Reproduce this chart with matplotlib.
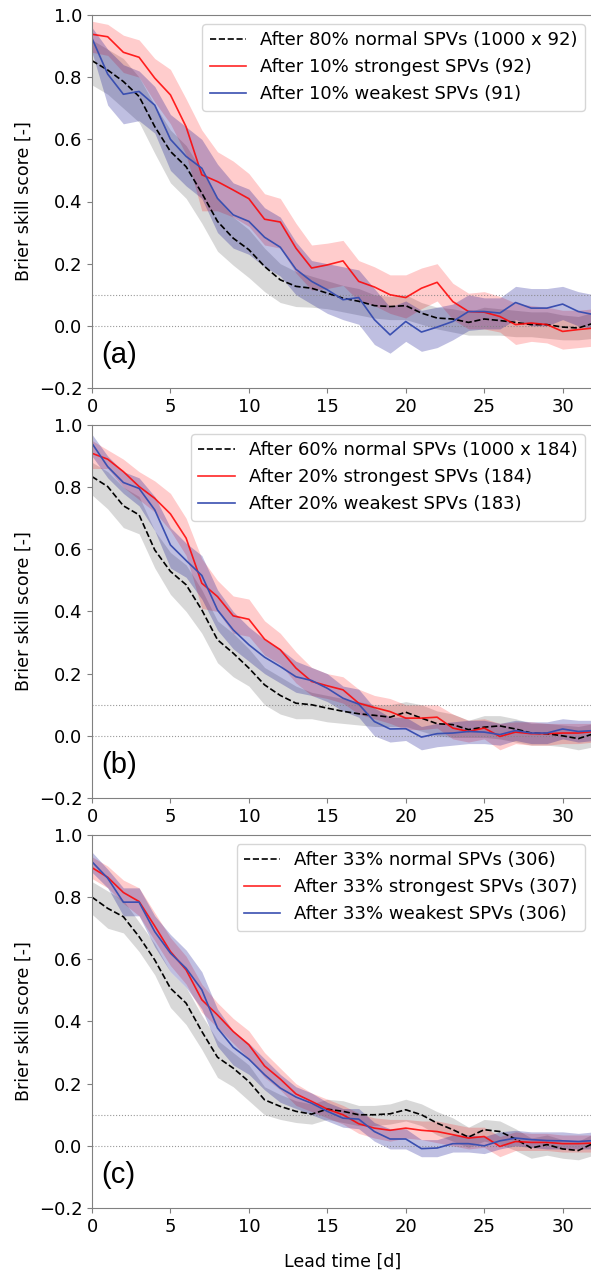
"""
Brier skill score after normal / strongest / weakest SPVs, three panels.
"""

import numpy as np
import matplotlib
matplotlib.use("Agg")
import matplotlib.pyplot as plt

lead = np.arange(0, 33)

# ---- panel (a): 80% normal / 10% strongest / 10% weakest
normal_a = [0.853, 0.823, 0.786, 0.738, 0.641, 0.561, 0.512, 0.427, 0.336, 0.282, 0.245,
            0.191, 0.148, 0.127, 0.121, 0.105, 0.089, 0.079, 0.065, 0.062, 0.065, 0.041,
            0.025, 0.022, 0.011, 0.022, 0.017, 0.011, 0.004, 0.004, -0.004, -0.007, 0.009]
normal_a_lo = [0.775, 0.745, 0.70, 0.655, 0.555, 0.46, 0.41, 0.33, 0.24, 0.195, 0.155,
               0.11, 0.075, 0.062, 0.06, 0.055, 0.045, 0.035, 0.025, 0.02, 0.02, 0.005,
               -0.01, -0.02, -0.03, -0.03, -0.03, -0.035, -0.035, -0.04, -0.045, -0.045, -0.04]
normal_a_hi = [0.92, 0.89, 0.86, 0.80, 0.71, 0.63, 0.58, 0.50, 0.41, 0.35, 0.31,
               0.25, 0.20, 0.175, 0.16, 0.145, 0.13, 0.12, 0.10, 0.095, 0.10, 0.075,
               0.06, 0.055, 0.045, 0.06, 0.055, 0.05, 0.045, 0.045, 0.035, 0.03, 0.045]
strong_a = [0.938, 0.93, 0.88, 0.864, 0.797, 0.743, 0.64, 0.486, 0.464, 0.437, 0.409,
            0.343, 0.334, 0.25, 0.186, 0.196, 0.209, 0.143, 0.125, 0.10, 0.091, 0.121,
            0.14, 0.078, 0.046, 0.044, 0.03, 0.004, 0.009, 0.004, -0.018, -0.012, -0.007]
strong_a_lo = [0.88, 0.87, 0.815, 0.80, 0.72, 0.65, 0.55, 0.37, 0.37, 0.35, 0.32,
               0.26, 0.25, 0.17, 0.115, 0.12, 0.13, 0.08, 0.065, 0.04, 0.025, 0.055,
               0.08, 0.02, -0.01, -0.01, -0.02, -0.06, -0.05, -0.055, -0.075, -0.07, -0.065]
strong_a_hi = [0.98, 0.97, 0.935, 0.92, 0.86, 0.825, 0.73, 0.63, 0.56, 0.53, 0.49,
               0.425, 0.41, 0.33, 0.26, 0.266, 0.275, 0.21, 0.19, 0.164, 0.164, 0.186,
               0.20, 0.137, 0.105, 0.11, 0.095, 0.073, 0.065, 0.06, 0.05, 0.05, 0.055]
weak_a = [0.925, 0.81, 0.745, 0.754, 0.71, 0.60, 0.545, 0.507, 0.41, 0.357, 0.336,
          0.285, 0.253, 0.182, 0.143, 0.116, 0.084, 0.091, 0.02, -0.029, 0.014, -0.02,
          -0.004, 0.014, 0.046, 0.046, 0.041, 0.075, 0.057, 0.057, 0.07, 0.046, 0.036]
weak_a_lo = [0.88, 0.71, 0.65, 0.66, 0.62, 0.50, 0.45, 0.41, 0.30, 0.25, 0.23,
             0.19, 0.16, 0.10, 0.07, 0.04, 0.02, 0.005, -0.06, -0.088, -0.05, -0.082,
             -0.07, -0.045, -0.015, -0.01, -0.01, 0.02, 0.0, 0.0, 0.02, 0.0, -0.01]
weak_a_hi = [0.96, 0.89, 0.84, 0.82, 0.77, 0.68, 0.64, 0.60, 0.52, 0.46, 0.44,
             0.38, 0.35, 0.27, 0.21, 0.20, 0.19, 0.18, 0.12, 0.06, 0.08, 0.05,
             0.06, 0.07, 0.10, 0.09, 0.09, 0.127, 0.12, 0.12, 0.127, 0.11, 0.10]

# ---- panel (b): 60% normal / 20% strongest / 20% weakest
normal_b = [0.834, 0.802, 0.74, 0.711, 0.598, 0.529, 0.486, 0.405, 0.309, 0.266, 0.218,
            0.164, 0.13, 0.105, 0.10, 0.089, 0.079, 0.071, 0.066, 0.06, 0.076, 0.057,
            0.039, 0.036, 0.02, 0.028, 0.032, 0.022, 0.009, 0.007, 0.0, -0.009, 0.007]
normal_b_lo = [0.775, 0.73, 0.67, 0.65, 0.54, 0.455, 0.40, 0.33, 0.235, 0.19, 0.16,
               0.10, 0.07, 0.055, 0.055, 0.045, 0.04, 0.035, 0.03, 0.03, 0.03, 0.015,
               0.0, -0.005, -0.005, -0.005, -0.01, -0.02, -0.03, -0.03, -0.035, -0.045, -0.035]
normal_b_hi = [0.88, 0.85, 0.80, 0.77, 0.66, 0.59, 0.55, 0.47, 0.37, 0.33, 0.28,
               0.22, 0.19, 0.16, 0.14, 0.13, 0.12, 0.11, 0.10, 0.10, 0.11, 0.10,
               0.08, 0.07, 0.05, 0.065, 0.065, 0.055, 0.04, 0.04, 0.035, 0.03, 0.04]
strong_b = [0.909, 0.89, 0.85, 0.802, 0.764, 0.714, 0.636, 0.491, 0.448, 0.386, 0.375,
            0.311, 0.277, 0.218, 0.175, 0.161, 0.148, 0.105, 0.091, 0.078, 0.057, 0.057,
            0.06, 0.025, 0.014, 0.025, -0.002, 0.012, 0.007, 0.007, 0.009, 0.009, 0.014]
strong_b_lo = [0.86, 0.86, 0.80, 0.76, 0.72, 0.66, 0.58, 0.41, 0.40, 0.33, 0.32,
               0.26, 0.23, 0.17, 0.13, 0.12, 0.105, 0.07, 0.055, 0.04, 0.02, 0.02,
               0.025, -0.01, -0.02, -0.01, -0.045, -0.025, -0.03, -0.03, -0.025, -0.025, -0.02]
strong_b_hi = [0.95, 0.92, 0.89, 0.85, 0.82, 0.78, 0.70, 0.57, 0.50, 0.45, 0.44,
               0.37, 0.33, 0.27, 0.22, 0.20, 0.19, 0.15, 0.13, 0.12, 0.10, 0.10,
               0.10, 0.07, 0.05, 0.055, 0.04, 0.045, 0.045, 0.04, 0.04, 0.04, 0.04]
weak_b = [0.941, 0.866, 0.815, 0.796, 0.727, 0.614, 0.564, 0.516, 0.405, 0.341, 0.293,
          0.253, 0.223, 0.19, 0.178, 0.153, 0.121, 0.102, 0.046, 0.022, 0.023, -0.004,
          0.007, 0.009, 0.014, 0.012, 0.004, 0.017, 0.009, 0.009, 0.022, 0.014, 0.017]
weak_b_lo = [0.90, 0.83, 0.78, 0.74, 0.66, 0.54, 0.51, 0.44, 0.34, 0.28, 0.24,
             0.20, 0.17, 0.14, 0.13, 0.11, 0.08, 0.06, 0.0, -0.02, -0.015, -0.045,
             -0.035, -0.03, -0.025, -0.025, -0.03, -0.015, -0.025, -0.025, -0.01, -0.02, -0.015]
weak_b_hi = [0.97, 0.90, 0.85, 0.83, 0.77, 0.67, 0.62, 0.58, 0.47, 0.40, 0.35,
             0.31, 0.28, 0.24, 0.22, 0.20, 0.16, 0.15, 0.09, 0.06, 0.06, 0.03,
             0.04, 0.045, 0.05, 0.05, 0.04, 0.05, 0.045, 0.045, 0.055, 0.05, 0.05]

# ---- panel (c): 33% normal / 33% strongest / 33% weakest
normal_c = [0.80, 0.764, 0.737, 0.673, 0.598, 0.507, 0.459, 0.368, 0.285, 0.25, 0.207,
            0.148, 0.127, 0.111, 0.102, 0.118, 0.111, 0.10, 0.10, 0.103, 0.116, 0.10,
            0.073, 0.052, 0.028, 0.052, 0.046, 0.022, -0.007, 0.004, -0.01, -0.015, 0.009]
normal_c_lo = [0.745, 0.70, 0.685, 0.625, 0.55, 0.445, 0.39, 0.31, 0.22, 0.19, 0.145,
               0.10, 0.085, 0.075, 0.07, 0.085, 0.075, 0.065, 0.065, 0.07, 0.08, 0.065,
               0.035, 0.015, -0.005, 0.015, 0.005, -0.015, -0.04, -0.03, -0.04, -0.045, -0.03]
normal_c_hi = [0.85, 0.82, 0.79, 0.72, 0.65, 0.56, 0.51, 0.42, 0.34, 0.30, 0.26,
               0.19, 0.165, 0.145, 0.135, 0.15, 0.145, 0.13, 0.13, 0.135, 0.15, 0.135,
               0.11, 0.09, 0.06, 0.085, 0.08, 0.055, 0.025, 0.035, 0.02, 0.015, 0.04]
strong_c = [0.895, 0.864, 0.815, 0.786, 0.707, 0.625, 0.566, 0.47, 0.421, 0.368, 0.325,
            0.257, 0.215, 0.167, 0.143, 0.118, 0.10, 0.071, 0.057, 0.05, 0.057, 0.05,
            0.046, 0.036, 0.025, 0.03, -0.002, 0.014, 0.011, 0.011, 0.007, 0.007, 0.009]
strong_c_lo = [0.86, 0.83, 0.78, 0.74, 0.66, 0.58, 0.52, 0.43, 0.38, 0.33, 0.28,
               0.22, 0.18, 0.13, 0.11, 0.09, 0.07, 0.04, 0.025, 0.015, 0.025, 0.02,
               0.01, 0.0, -0.01, -0.005, -0.035, -0.015, -0.015, -0.015, -0.02, -0.02, -0.02]
strong_c_hi = [0.93, 0.90, 0.855, 0.83, 0.75, 0.67, 0.61, 0.52, 0.46, 0.41, 0.37,
               0.30, 0.25, 0.20, 0.17, 0.15, 0.13, 0.105, 0.09, 0.085, 0.085, 0.08,
               0.08, 0.07, 0.06, 0.06, 0.03, 0.045, 0.04, 0.04, 0.035, 0.035, 0.035]
weak_c = [0.914, 0.861, 0.784, 0.784, 0.689, 0.62, 0.571, 0.502, 0.379, 0.317, 0.279,
          0.229, 0.186, 0.157, 0.137, 0.111, 0.089, 0.086, 0.046, 0.022, 0.022, -0.009,
          -0.007, 0.007, 0.007, 0.0, 0.016, 0.025, 0.02, 0.017, 0.016, 0.014, 0.017]
weak_c_lo = [0.88, 0.83, 0.74, 0.74, 0.64, 0.56, 0.51, 0.44, 0.32, 0.26, 0.23,
             0.18, 0.14, 0.12, 0.10, 0.08, 0.06, 0.055, 0.015, -0.01, -0.01, -0.035,
             -0.035, -0.02, -0.02, -0.025, -0.01, 0.0, -0.005, -0.01, -0.01, -0.01, -0.01]
weak_c_hi = [0.945, 0.89, 0.83, 0.83, 0.74, 0.68, 0.63, 0.56, 0.44, 0.37, 0.33,
             0.28, 0.23, 0.19, 0.17, 0.14, 0.12, 0.12, 0.075, 0.055, 0.055, 0.02,
             0.02, 0.035, 0.035, 0.03, 0.045, 0.05, 0.045, 0.045, 0.045, 0.04, 0.045]

labels_a = ["After 80% normal SPVs (1000 x 92)", "After 10% strongest SPVs (92)",
            "After 10% weakest SPVs (91)"]
labels_b = ["After 60% normal SPVs (1000 x 184)", "After 20% strongest SPVs (184)",
            "After 20% weakest SPVs (183)"]
labels_c = ["After 33% normal SPVs (306)", "After 33% strongest SPVs (307)",
            "After 33% weakest SPVs (306)"]

BLUE_LINE = "#3a4fb0"


def draw_panel(ax, normal, strong, weak, labels, tag):
    (n, n_lo, n_hi), (s, s_lo, s_hi), (w, w_lo, w_hi) = normal, strong, weak
    ax.axhline(0.1, color="grey", ls=":", lw=0.8, alpha=0.8)
    ax.axhline(0.0, color="grey", ls=":", lw=0.8, alpha=0.8)
    ax.fill_between(lead, n_lo, n_hi, color="grey", alpha=0.3, lw=0)
    ax.fill_between(lead, s_lo, s_hi, color="red", alpha=0.2, lw=0)
    ax.fill_between(lead, w_lo, w_hi, color="darkblue", alpha=0.25, lw=0)
    ax.plot(lead, n, "k--", lw=1.2, label=labels[0])
    ax.plot(lead, s, color="red", alpha=0.85, lw=1.2, label=labels[1])
    ax.plot(lead, w, color=BLUE_LINE, lw=1.2, label=labels[2])

    ax.set_xlim(0, 32)
    ax.set_ylim(-0.2, 1.0)
    ax.set_xticks([0, 5, 10, 15, 20, 25, 30])
    ax.set_yticks([-0.2, 0.0, 0.2, 0.4, 0.6, 0.8, 1.0])
    ax.tick_params(labelsize=13, color="grey")
    for side in ["left", "bottom", "top", "right"]:
        ax.spines[side].set_color("grey")
    ax.set_ylabel("Brier skill score [-]", fontsize=12.5)
    ax.legend(loc="upper right", fontsize=13)
    ax.text(0.018, 0.05, tag, transform=ax.transAxes, fontsize=21,
            family="Liberation Sans", ha="left", va="bottom")


fig = plt.figure(figsize=(5.91, 12.71), dpi=100)
left, width, height = 92 / 591, 502 / 591, 373 / 1271
ax_a = fig.add_axes([left, 1 - 388 / 1271, width, height])
ax_b = fig.add_axes([left, 1 - 798 / 1271, width, height])
ax_c = fig.add_axes([left, 1 - 1208 / 1271, width, height])

draw_panel(ax_a, (normal_a, normal_a_lo, normal_a_hi), (strong_a, strong_a_lo, strong_a_hi),
           (weak_a, weak_a_lo, weak_a_hi), labels_a, "(a)")
draw_panel(ax_b, (normal_b, normal_b_lo, normal_b_hi), (strong_b, strong_b_lo, strong_b_hi),
           (weak_b, weak_b_lo, weak_b_hi), labels_b, "(b)")
draw_panel(ax_c, (normal_c, normal_c_lo, normal_c_hi), (strong_c, strong_c_lo, strong_c_hi),
           (weak_c, weak_c_lo, weak_c_hi), labels_c, "(c)")
ax_c.set_xlabel("Lead time [d]", fontsize=12.5, labelpad=12)

fig.savefig("out.png", dpi=100)
